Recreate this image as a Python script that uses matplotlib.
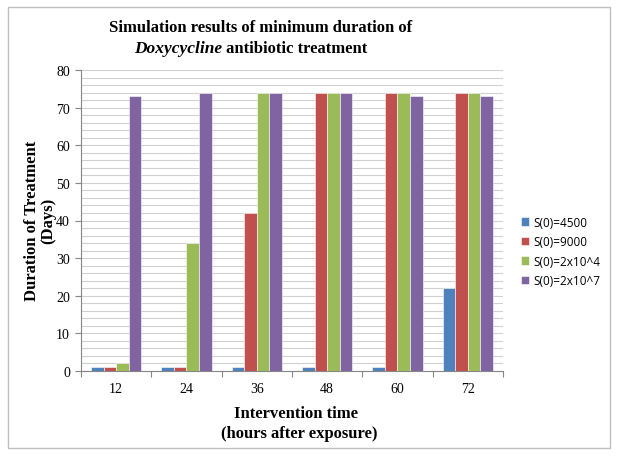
import matplotlib
matplotlib.use("Agg")
import matplotlib.pyplot as plt
import numpy as np
from matplotlib.patches import Rectangle

categories = ["12", "24", "36", "48", "60", "72"]
series_names = ["S(0)=4500", "S(0)=9000", "S(0)=2x10^4", "S(0)=2x10^7"]
s4500 = [1, 1, 1, 1, 1, 22]
s9000 = [1, 1, 42, 74, 74, 74]
s2e4 = [2, 34, 74, 74, 74, 74]
s2e7 = [73, 74, 74, 74, 73, 73]
series = [s4500, s9000, s2e4, s2e7]
colors = ["#4F81BD", "#C0504D", "#9BBB59", "#8064A2"]

W, H = 618, 460
fig = plt.figure(figsize=(W / 100, H / 100), dpi=100)
fig.patch.set_facecolor("white")
fig.patches.append(Rectangle((8 / W, 1 - 449 / H), (610 - 8) / W, (449 - 8) / H,
                             transform=fig.transFigure, fill=False,
                             edgecolor="#BFBFBF", linewidth=1.0))

ax = fig.add_axes([81 / W, 1 - 372 / H, (503 - 81) / W, (372 - 71) / H])
x = np.arange(len(categories))
bw = 0.178
for i, (vals, c, name) in enumerate(zip(series, colors, series_names)):
    ax.bar(x + (i - 1.5) * bw, vals, width=bw, color=c, edgecolor="white",
           linewidth=0.4, label=name, zorder=3)

ax.set_xlim(-0.5, len(categories) - 0.5)
ax.set_ylim(0, 80)
ax.set_yticks(np.arange(0, 81, 10))
ax.set_yticks(np.arange(0, 81, 2), minor=True)
ax.grid(axis="y", which="both", color="#D0D0D0", linewidth=0.8, zorder=0)
ax.set_axisbelow(True)

ax.set_xticks(np.arange(-0.5, len(categories), 1.0))
ax.set_xticklabels([])
ax.set_xticks(x, minor=True)
ax.set_xticklabels(categories, minor=True)
ax.tick_params(axis="x", which="major", length=4, color="#868686", direction="out")
ax.tick_params(axis="x", which="minor", length=0, pad=8)
ax.tick_params(axis="y", which="major", length=4, color="#868686", direction="out",
               pad=4)
ax.tick_params(axis="y", which="minor", length=0)
for lab in ax.get_xticklabels(minor=True) + ax.get_yticklabels():
    lab.set_fontfamily("Liberation Serif")
    lab.set_fontsize(10)

for s in ["top", "right"]:
    ax.spines[s].set_visible(False)
for s in ["left", "bottom"]:
    ax.spines[s].set_color("#868686")
    ax.spines[s].set_linewidth(0.8)

leg = fig.legend(loc="upper left", bbox_to_anchor=(510 / W, 1 - 206 / H),
                 frameon=False, handlelength=0.7, handleheight=0.7,
                 handletextpad=0.4, labelspacing=0.55,
                 prop={"family": "Open Sans", "size": 8.5})

serif = "Liberation Serif"
# y label
fig.text(32 / W, 1 - 221 / H, "Duration of Treatment", rotation=90, ha="center",
         va="center", fontfamily=serif, fontweight="bold", fontsize=12)
fig.text(48 / W, 1 - 221 / H, "(Days)", rotation=90, ha="center",
         va="center", fontfamily=serif, fontweight="bold", fontsize=12)
# x label
fig.text(296 / W, 1 - 414 / H, "Intervention time", ha="center", va="center",
         fontfamily=serif, fontweight="bold", fontsize=12)
fig.text(299 / W, 1 - 434 / H, "(hours after exposure)", ha="center", va="center",
         fontfamily=serif, fontweight="bold", fontsize=12)

# title
fig.text(261 / W, 1 - 28 / H, "Simulation results of minimum duration of",
         ha="center", va="center", fontfamily=serif, fontweight="bold", fontsize=12)
renderer = fig.canvas.get_renderer()
t1 = fig.text(0, 0, "Doxycycline", fontfamily=serif, fontstyle="italic",
              fontweight="bold", fontsize=12.5, va="center")
t2 = fig.text(0, 0, " antibiotic treatment", fontfamily=serif, fontweight="bold",
              fontsize=12, va="center")
w1 = t1.get_window_extent(renderer).width
w2 = t2.get_window_extent(renderer).width
total = w1 + w2
cx = 251
start = cx - total / 2
yy = 1 - 49 / H
t1.set_position((start / W, yy))
t2.set_position(((start + w1) / W, yy))

fig.savefig("out.png", dpi=100, facecolor="white")
